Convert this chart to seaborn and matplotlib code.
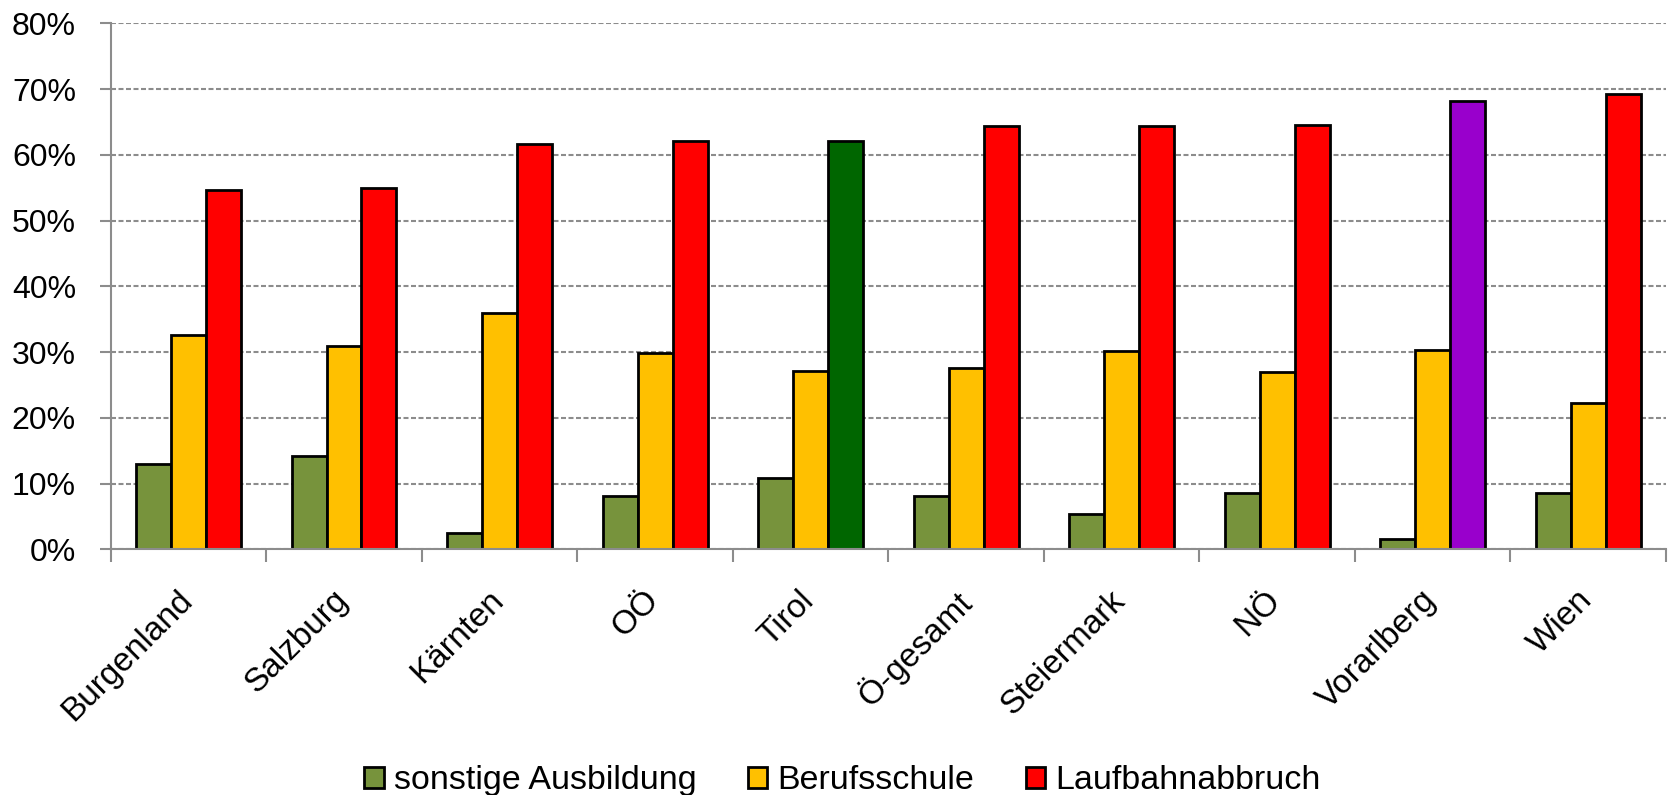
import matplotlib
matplotlib.use("Agg")
import matplotlib.pyplot as plt
import matplotlib.patches as mpatches
import matplotlib.transforms as mtransforms
import seaborn as sns
import pandas as pd
import numpy as np

regions = ["Burgenland", "Salzburg", "Kärnten", "OÖ", "Tirol",
           "Ö-gesamt", "Steiermark", "NÖ", "Vorarlberg", "Wien"]
series = ["sonstige Ausbildung", "Berufsschule", "Laufbahnabbruch"]
sonstige = [13.0, 14.2, 2.5, 8.1, 10.8, 8.1, 5.4, 8.5, 1.5, 8.6]
berufsschule = [32.6, 30.9, 35.9, 29.9, 27.1, 27.6, 30.2, 27.0, 30.3, 22.2]
abbruch = [54.6, 55.0, 61.7, 62.1, 62.1, 64.4, 64.4, 64.6, 68.2, 69.3]
y_ticks = [0, 10, 20, 30, 40, 50, 60, 70, 80]

colors = ["#77933C", "#FFC000", "#FF0000"]
# highlighted bars of the last series
highlight = {"Tirol": "#006600", "Vorarlberg": "#9900CC"}

df = pd.DataFrame({
    "Region": regions * 3,
    "Serie": [s for s in series for _ in regions],
    "Wert": sonstige + berufsschule + abbruch,
})

sns.set_style("white")
plt.rcParams["font.family"] = ["Liberation Sans", "DejaVu Sans"]
plt.rcParams["text.color"] = "black"
plt.rcParams["xtick.labelcolor"] = "black"
plt.rcParams["ytick.labelcolor"] = "black"

fig = plt.figure(figsize=(16.75, 7.95), dpi=100)
ax = fig.add_axes([0.0661, 0.3091, 0.9285, 0.6614])

sns.barplot(data=df, x="Region", y="Wert", hue="Serie", order=regions,
            hue_order=series, palette=colors, saturation=1, width=0.675, ax=ax,
            edgecolor="black", linewidth=2, legend=False)

# recolor the special bars
for i, r in enumerate(regions):
    if r in highlight:
        ax.containers[2][i].set_facecolor(highlight[r])

ax.set_xlim(-0.5, len(regions) - 0.5)
ax.set_ylim(0, 80)
ax.set_yticks(y_ticks)
ax.set_yticklabels([f"{t}%" for t in y_ticks], fontsize=23)
ax.set_xlabel("")
ax.set_ylabel("")

ax.set_axisbelow(True)
ax.yaxis.grid(True, linestyle=(0, (2.4, 1.2)), color="#8c8c8c", linewidth=1.5)
ax.xaxis.grid(False)

for s in ["top", "right"]:
    ax.spines[s].set_visible(False)
for s in ["left", "bottom"]:
    ax.spines[s].set_color("#8c8c8c")
    ax.spines[s].set_linewidth(1.5)

ax.tick_params(axis="y", which="major", left=True, length=8, width=1.5,
               color="#8c8c8c", pad=17)
ax.set_xticks(range(len(regions)))
ax.set_xticklabels(regions, fontsize=24, rotation=45, ha="right",
                   rotation_mode="anchor")
ax.tick_params(axis="x", which="major", bottom=False, pad=22)
ax.set_xticks(np.arange(-0.5, len(regions)), minor=True)
ax.tick_params(axis="x", which="minor", bottom=True, length=9, width=1.5,
               color="#8c8c8c")

# nudge rotated labels a bit to the left
shift = mtransforms.ScaledTranslation(-0.12, 0, fig.dpi_scale_trans)
for lbl in ax.get_xticklabels():
    lbl.set_transform(lbl.get_transform() + shift)

handles = [mpatches.Patch(facecolor=c, edgecolor="black", linewidth=2, label=s)
           for c, s in zip(colors, series)]
fig.legend(handles=handles, loc="center", bbox_to_anchor=(0.503, 0.018), ncol=3,
           frameon=False, fontsize=24.5, handlelength=0.58, handleheight=0.58,
           handletextpad=0.3, columnspacing=1.5)

fig.savefig("out.png", dpi=100)
